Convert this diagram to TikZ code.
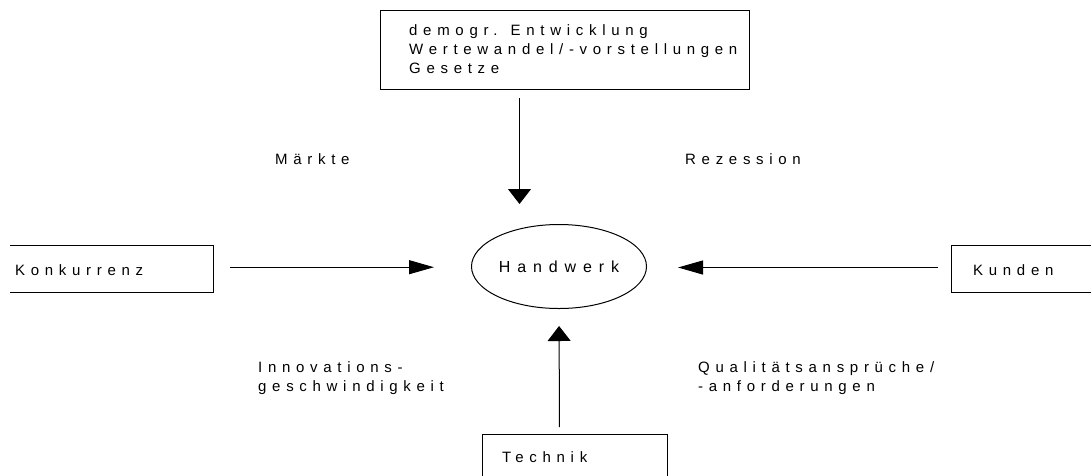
\documentclass[tikz,border=0pt]{standalone}
\usepackage{fontspec}
\newfontfamily\spaced{Liberation Sans}[LetterSpace=38]
\newfontfamily\spacedhw{Liberation Sans}[LetterSpace=43]
\usetikzlibrary{arrows.meta,calc,shapes.geometric}
\tikzset{
  lbl/.style={inner sep=0pt, font=\spaced\fontsize{15}{19}\selectfont, align=left},
  boxnode/.style={rectangle, inner sep=0pt, draw=none},
  conn/.style={line width=1pt, black},
  harr/.style={conn, -{Triangle[length=25pt,width=14pt]}},
  varr/.style={conn, -{Triangle[length=15pt,width=23pt]}}
}
\begin{document}
\begin{tikzpicture}[x=1pt,y=-1pt]
\useasboundingbox (0,0) rectangle (1091,475);
\clip (0,0) rectangle (1091,475);
\fill[white] (0,0) rectangle (1091,475);
% top box
\node[boxnode, draw, line width=1pt, minimum width=369pt, minimum height=79pt, anchor=north west] (top) at (380,10) {};
\node[lbl, anchor=north west] (toptxt) at (409,24) {demogr. Entwicklung\\Wertewandel/-vorstellungen\\Gesetze};
% ellipse
\node[ellipse, draw, line width=1pt, minimum width=175pt, minimum height=84pt, inner sep=0pt, font=\spacedhw\fontsize{16}{19}\selectfont] (hw) at (559,266.5) {Handwerk};
% Konkurrenz box (left edge off canvas)
\node[boxnode, minimum width=203pt, minimum height=47pt, anchor=north west] (konk) at (10,245) {};
\draw[conn] (konk.north west) -- (konk.north east) -- (konk.south east) -- (konk.south west);
\node[lbl, anchor=base west] (konktxt) at (15,275) {Konkurrenz};
% Kunden box
\node[boxnode, draw, line width=1pt, minimum width=170pt, minimum height=47pt, anchor=north west] (kun) at (951,245) {};
\node[lbl, anchor=base west] (kuntxt) at (973,275) {Kunden};
% Technik box
\node[boxnode, draw, line width=1pt, minimum width=185pt, minimum height=60pt, anchor=north west] (tech) at (482,434) {};
\node[lbl, anchor=base west] (techtxt) at (502,462) {Technik};
% labels
\node[lbl, anchor=base west] (maerkte) at (275,164) {Märkte};
\node[lbl, anchor=base west] (rez) at (685,164) {Rezession};
\node[lbl, anchor=north west] (innov) at (258,361) {Innovations-\\geschwindigkeit};
\node[lbl, anchor=north west] (qual) at (698,361) {Qualitätsansprüche/\\-anforderungen};
% connectors
\draw[harr, shorten <=17pt, shorten >=37pt] ([yshift=1.5pt]konk.east) -- ([yshift=1.5pt]konk.east -| hw.west);
\draw[harr, shorten <=13pt, shorten >=31pt] ([yshift=1.5pt]kun.west) -- ([yshift=1.5pt]kun.west -| hw.east);
\draw[varr, shorten <=8pt, shorten >=20pt] ([xshift=-45.5pt]top.south) -- ([xshift=-45.5pt]top.south |- hw.north);
\draw[varr, shorten <=7pt, shorten >=17pt] ([xshift=-15.5pt]tech.north) -- (hw.south);
\end{tikzpicture}
\end{document}
